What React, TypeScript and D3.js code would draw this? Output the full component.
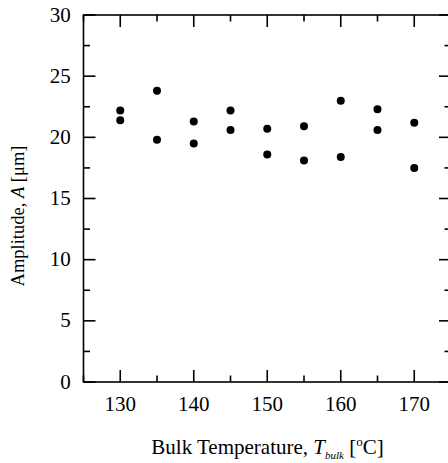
import React from "react";
import * as d3 from "d3";

const temps = [130, 135, 140, 145, 150, 155, 160, 165, 170];
const amplitudeHigh = [22.2, 23.8, 21.3, 22.2, 20.7, 20.9, 23.0, 22.3, 21.2];
const amplitudeLow = [21.4, 19.8, 19.5, 20.6, 18.6, 18.1, 18.4, 20.6, 17.5];
const xMajorTicks = [130, 140, 150, 160, 170];
const xMinorTicks = [125, 135, 145, 155, 165, 175];
const yMajorTicks = [0, 5, 10, 15, 20, 25, 30];
const yMinorTicks = [2.5, 7.5, 12.5, 17.5, 22.5, 27.5];

const W = 448;
const H = 463;
const left = 83.5;
const right = 451;
const top = 15;
const bottom = 382;

export default function App() {
  const x = d3.scaleLinear().domain([125, 175]).range([left, right]);
  const y = d3.scaleLinear().domain([0, 30]).range([bottom, top]);
  const font = "'Liberation Serif', 'Times New Roman', serif";
  const points = temps.flatMap((t, i) => [
    { t, a: amplitudeHigh[i] },
    { t, a: amplitudeLow[i] },
  ]);
  const major = 12;
  const minor = 6.5;
  const sw = 1.6;
  return (
    <svg
      width={W}
      height={H}
      style={{ position: "absolute", left: 0, top: 0, background: "#fff" }}
      fontFamily={font}
    >
      <rect x={left} y={top} width={right - left} height={bottom - top} fill="none" stroke="#000" strokeWidth={sw} />
      {xMajorTicks.map((v) => (
        <g key={"xm" + v}>
          <line x1={x(v)} x2={x(v)} y1={bottom} y2={bottom - major} stroke="#000" strokeWidth={sw} />
          <line x1={x(v)} x2={x(v)} y1={top} y2={top + major} stroke="#000" strokeWidth={sw} />
          <text x={x(v)} y={411} textAnchor="middle" fontSize={21}>{v}</text>
        </g>
      ))}
      {xMinorTicks.map((v) => (
        <g key={"xn" + v}>
          <line x1={x(v)} x2={x(v)} y1={bottom} y2={bottom - minor} stroke="#000" strokeWidth={sw} />
          <line x1={x(v)} x2={x(v)} y1={top} y2={top + minor} stroke="#000" strokeWidth={sw} />
        </g>
      ))}
      {yMajorTicks.map((v) => (
        <g key={"ym" + v}>
          <line x1={left} x2={left + major} y1={y(v)} y2={y(v)} stroke="#000" strokeWidth={sw} />
          <line x1={right} x2={right - major} y1={y(v)} y2={y(v)} stroke="#000" strokeWidth={sw} />
          <text x={70.7} y={y(v) + 6.5} textAnchor="end" fontSize={21}>{v}</text>
        </g>
      ))}
      {yMinorTicks.map((v) => (
        <g key={"yn" + v}>
          <line x1={left} x2={left + minor} y1={y(v)} y2={y(v)} stroke="#000" strokeWidth={sw} />
          <line x1={right} x2={right - minor} y1={y(v)} y2={y(v)} stroke="#000" strokeWidth={sw} />
        </g>
      ))}
      {points.map((p, i) => (
        <circle key={i} cx={x(p.t)} cy={y(p.a)} r={4} fill="#000" />
      ))}
      <text x={267.5} y={454} textAnchor="middle" fontSize={21}>
        Bulk Temperature, <tspan fontStyle="italic">T</tspan>
        <tspan fontStyle="italic" fontSize={11} dy={5}>bulk</tspan>
        <tspan dy={-5}> [</tspan>
        <tspan fontSize={13} dy={-8}>o</tspan>
        <tspan dy={8}>C]</tspan>
      </text>
      <text transform={`translate(24,216) rotate(-90)`} textAnchor="middle" fontSize={18.5}>
        Amplitude, <tspan fontStyle="italic">A</tspan> [μm]
      </text>
    </svg>
  );
}
